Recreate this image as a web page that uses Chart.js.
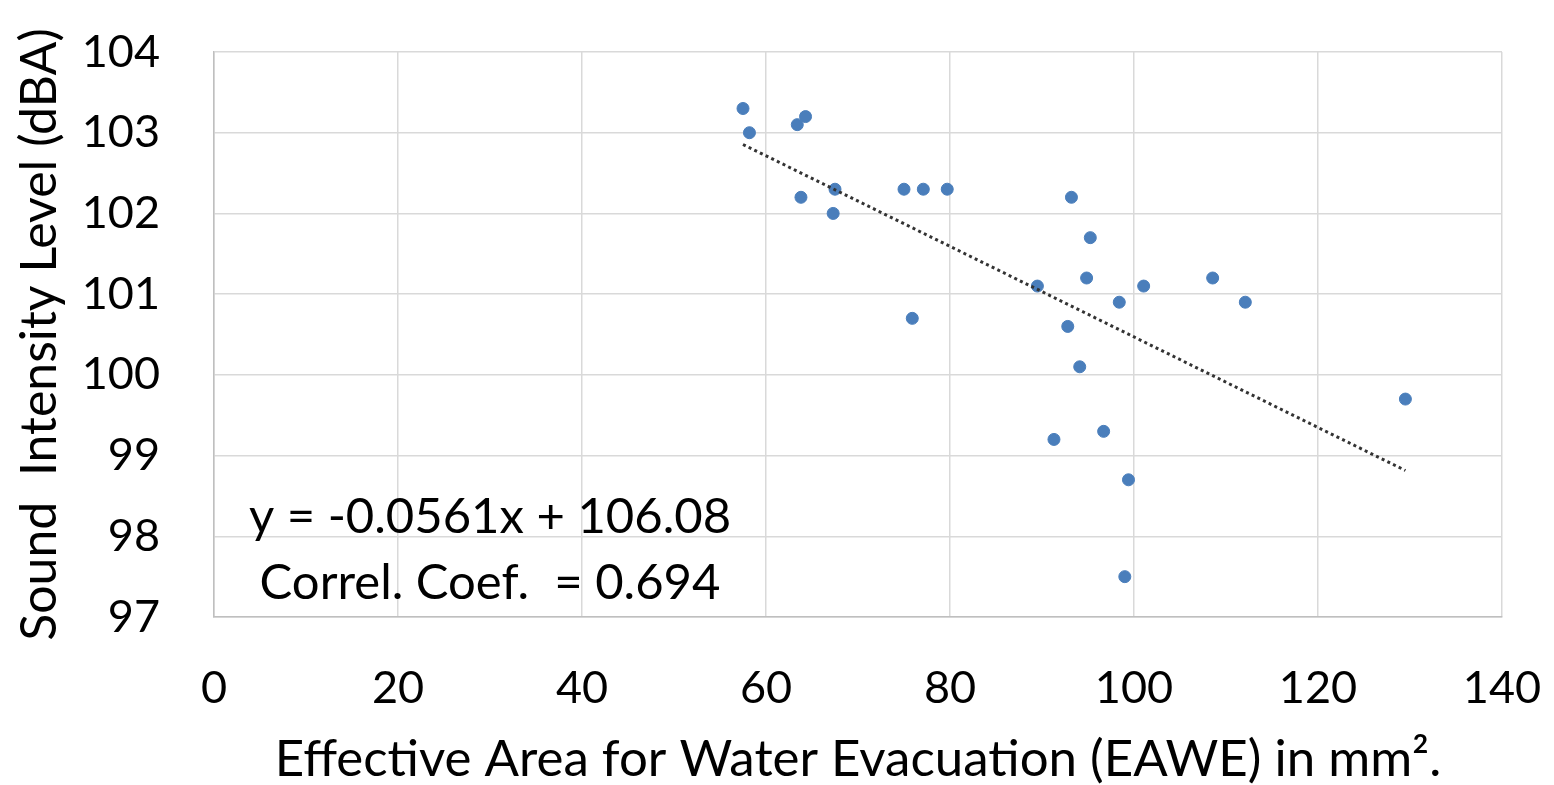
<!DOCTYPE html>
<html>
<head>
<meta charset="utf-8">
<script src="https://cdn.jsdelivr.net/npm/chart.js@4"></script>
<style>
    body { margin: 0; background: #fff; }
    #wrap { width: 1554px; height: 785px; }
</style>
</head>
<body>
<div id="wrap"><canvas id="chart"></canvas></div>
<script>
// EAWE (mm2) vs sound intensity level (dBA)
var eawe = [57.5, 58.2, 63.4, 64.3, 63.8, 67.5, 67.3, 75.0, 77.1, 79.7, 75.9,
            93.2, 95.25, 89.5, 94.85, 101.05, 108.55, 112.1, 98.4, 92.8, 94.1,
            91.3, 96.7, 99.4, 99.0, 129.5];
var sil = [103.3, 103.0, 103.1, 103.2, 102.2, 102.3, 102.0, 102.3, 102.3, 102.3, 100.7,
           102.2, 101.7, 101.1, 101.2, 101.1, 101.2, 100.9, 100.9, 100.6, 100.1,
           99.2, 99.3, 98.7, 97.5, 99.7];

// linear fit as reported on the chart
var slope = -0.0561;
var intercept = 106.08;
var fitText = ["y = -0.0561x + 106.08", "Correl. Coef.  = 0.694"];
var fitTextX = 30;
var fitTextY = [98.24, 97.42];

var xTicks = [0, 20, 40, 60, 80, 100, 120, 140];
var yTicks = [97, 98, 99, 100, 101, 102, 103, 104];

var points = eawe.map(function (x, k) { return { x: x, y: sil[k] }; });
var xMin = Math.min.apply(null, eawe);
var xMax = Math.max.apply(null, eawe);
var trend = [
    { x: xMin, y: slope * xMin + intercept },
    { x: xMax, y: slope * xMax + intercept }
];

var FONT = "Lato";
var gridColor = "#d9d9d9";

const fitLabel = {
    id: "fitLabel",
    afterDatasetsDraw(chart) {
        const ctx = chart.ctx;
        const xs = chart.scales.x, ys = chart.scales.y;
        ctx.save();
        ctx.font = "49px " + FONT;
        ctx.fillStyle = "#000";
        ctx.textAlign = "center";
        ctx.textBaseline = "middle";
        fitText.forEach(function (t, k) {
            ctx.fillText(t, xs.getPixelForValue(fitTextX), ys.getPixelForValue(fitTextY[k]));
        });
        ctx.restore();
    }
};

new Chart(document.getElementById("chart"), {
    type: "scatter",
    data: {
        datasets: [{
            type: "line",
            label: "Trend",
            data: trend,
            borderColor: "#333",
            borderWidth: 3,
            borderDash: [3, 3.3],
            borderCapStyle: "butt",
            pointRadius: 0,
            fill: false,
            order: 0
        }, {
            label: "EAWE",
            data: points,
            backgroundColor: "#4a7ebb",
            borderColor: "#4a7ebb",
            pointRadius: 6,
            order: 1
        }]
    },
    options: {
        responsive: true,
        maintainAspectRatio: false,
        animation: false,
        layout: { padding: { top: 52, right: 52, left: 0, bottom: 0 } },
        plugins: {
            legend: { display: false },
            tooltip: { enabled: false }
        },
        scales: {
            x: {
                type: "linear",
                min: 0,
                max: 140,
                afterBuildTicks: function (s) { s.ticks = xTicks.map(function (v) { return { value: v }; }); },
                afterFit: function (s) { s.height = 168; },
                // invisible tick marks space the labels (ticks.padding would also pad the chart area)
                grid: { color: gridColor, lineWidth: 1.5, drawTicks: true, tickLength: 44, tickColor: "rgba(0,0,0,0)" },
                border: { color: "#bfbfbf", width: 1.5 },
                ticks: { color: "#000", padding: 0, font: { family: FONT, size: 45 } },
                title: {
                    display: true,
                    text: "Effective Area for Water Evacuation (EAWE) in mm\u00b2.",
                    color: "#000",
                    font: { family: FONT, size: 51, lineHeight: 0.85 }
                }
            },
            y: {
                min: 97,
                max: 104,
                afterBuildTicks: function (s) { s.ticks = yTicks.map(function (v) { return { value: v }; }); },
                afterFit: function (s) { s.width = 214; },
                grid: { color: gridColor, lineWidth: 1.5, drawTicks: true, tickLength: 54, tickColor: "rgba(0,0,0,0)" },
                border: { color: "#bfbfbf", width: 1.5 },
                ticks: { color: "#000", padding: 0, font: { family: FONT, size: 45 } },
                title: {
                    display: true,
                    text: "Sound  Intensity Level (dBA)",
                    color: "#000",
                    font: { family: FONT, size: 50, lineHeight: 1.45 }
                }
            }
        }
    },
    plugins: [fitLabel]
});
</script>
</body>
</html>
